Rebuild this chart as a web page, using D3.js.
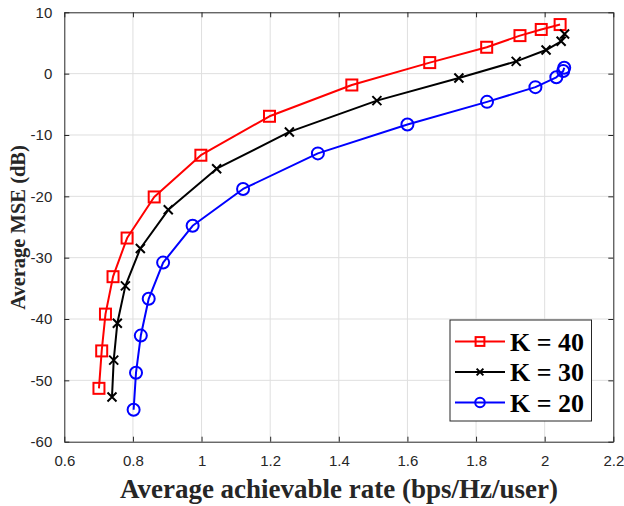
<!DOCTYPE html>
<html>
<head>
<meta charset="utf-8">
<script src="https://cdn.jsdelivr.net/npm/d3@7"></script>
<style>
  html, body { margin: 0; padding: 0; background: #fff; }
  svg { display: block; }
</style>
</head>
<body>
<svg id="chart" width="624" height="506"></svg>
<script>
// Achievable rate (bps/Hz/user) vs. average MSE (dB) for each user count K
const rateK40 = [0.701, 0.709, 0.720, 0.742, 0.783, 0.862, 0.998, 1.198, 1.438, 1.665, 1.831, 1.928, 1.990, 2.045];
const mseK40  = [-51.3, -45.2, -39.2, -33.1, -26.8, -20.1, -13.3, -6.95, -1.85, 1.8, 4.3, 6.2, 7.2, 8.0];

const rateK30 = [0.739, 0.744, 0.7545, 0.778, 0.8216, 0.903, 1.044, 1.256, 1.511, 1.750, 1.917, 2.004, 2.048, 2.058];
const mseK30  = [-52.7, -46.7, -40.7, -34.6, -28.5, -22.2, -15.5, -9.5, -4.4, -0.7, 2.0, 3.85, 5.27, 6.46];

const rateK20 = [0.802, 0.809, 0.823, 0.846, 0.888, 0.974, 1.121, 1.339, 1.600, 1.832, 1.973, 2.034, 2.054, 2.057];
const mseK20  = [-54.8, -48.75, -42.7, -36.7, -30.8, -24.8, -18.8, -13.0, -8.3, -4.6, -2.2, -0.6, 0.43, 0.97];

const seriesLabels = ["K = 40", "K = 30", "K = 20"];
const xTicks = [0.6, 0.8, 1.0, 1.2, 1.4, 1.6, 1.8, 2.0, 2.2];
const yTicks = [-60, -50, -40, -30, -20, -10, 0, 10];
const xLabel = "Average achievable rate (bps/Hz/user)";
const yLabel = "Average MSE (dB)";

const series = [
  { label: seriesLabels[0], xs: rateK40, ys: mseK40, color: "#ff0000", marker: "square" },
  { label: seriesLabels[1], xs: rateK30, ys: mseK30, color: "#000000", marker: "cross" },
  { label: seriesLabels[2], xs: rateK20, ys: mseK20, color: "#0000ff", marker: "circle" }
];

const svg = d3.select("#chart");
const plot = { left: 64.3, top: 12.3, right: 613.3, bottom: 441.7 };

const x = d3.scaleLinear().domain([0.6, 2.2]).range([plot.left, plot.right]);
const y = d3.scaleLinear().domain([-60, 10]).range([plot.bottom, plot.top]);

const axisColor = "#262626";
const gridColor = "#dfdfdf";
const tickFont = "'Liberation Sans', Arial, sans-serif";
const serifFont = "'Liberation Serif', 'Times New Roman', serif";

// grid
const grid = svg.append("g");
grid.selectAll("line.gx").data(xTicks.slice(1, -1)).enter().append("line")
  .attr("x1", d => x(d)).attr("x2", d => x(d))
  .attr("y1", plot.top).attr("y2", plot.bottom)
  .attr("stroke", gridColor).attr("stroke-width", 1);
grid.selectAll("line.gy").data(yTicks.slice(1, -1)).enter().append("line")
  .attr("y1", d => y(d)).attr("y2", d => y(d))
  .attr("x1", plot.left).attr("x2", plot.right)
  .attr("stroke", gridColor).attr("stroke-width", 1);

// axes (ticks pointing inward, mirrored on top and right)
function styleAxis(g) {
  g.select(".domain").attr("stroke", axisColor).attr("stroke-width", 1);
  g.selectAll(".tick line").attr("stroke", axisColor);
  g.selectAll(".tick text").attr("fill", axisColor)
    .style("font-family", tickFont).style("font-size", "15px");
}
// plain hyphen-minus for negative numbers
const fmt = d => String(+d.toFixed(1));

svg.append("g").attr("transform", `translate(0,${plot.bottom})`)
  .call(d3.axisBottom(x).tickValues(xTicks).tickFormat(fmt).tickSizeInner(-5).tickSizeOuter(0).tickPadding(14))
  .call(styleAxis);
svg.append("g").attr("transform", `translate(0,${plot.top})`)
  .call(d3.axisTop(x).tickValues(xTicks).tickFormat("").tickSizeInner(-5).tickSizeOuter(0))
  .call(styleAxis);
svg.append("g").attr("transform", `translate(${plot.left},0)`)
  .call(d3.axisLeft(y).tickValues(yTicks).tickFormat(fmt).tickSizeInner(-5).tickSizeOuter(0).tickPadding(12))
  .call(styleAxis);
svg.append("g").attr("transform", `translate(${plot.right},0)`)
  .call(d3.axisRight(y).tickValues(yTicks).tickFormat("").tickSizeInner(-5).tickSizeOuter(0))
  .call(styleAxis);

// series lines and markers
const line = d3.line().x(d => x(d[0])).y(d => y(d[1]));

function drawMarker(g, type, cx, cy, color, scale) {
  const s = scale || 1;
  if (type === "square") {
    const h = 5.5 * s;
    g.append("rect").attr("x", cx - h).attr("y", cy - h).attr("width", 2 * h).attr("height", 2 * h)
      .attr("fill", "none").attr("stroke", color).attr("stroke-width", 2);
  } else if (type === "circle") {
    g.append("circle").attr("cx", cx).attr("cy", cy).attr("r", 6 * s)
      .attr("fill", "none").attr("stroke", color).attr("stroke-width", 2);
  } else {
    const h = 4.5 * s;
    g.append("path")
      .attr("d", `M${cx - h},${cy - h}L${cx + h},${cy + h}M${cx - h},${cy + h}L${cx + h},${cy - h}`)
      .attr("stroke", color).attr("stroke-width", 2).attr("fill", "none");
  }
}

series.forEach(s => {
  const pts = s.xs.map((v, i) => [v, s.ys[i]]);
  const g = svg.append("g");
  g.append("path").datum(pts).attr("d", line)
    .attr("fill", "none").attr("stroke", s.color).attr("stroke-width", 2)
    .attr("stroke-linejoin", "round");
  pts.forEach(p => drawMarker(g, s.marker, x(p[0]), y(p[1]), s.color));
});

// axis titles
svg.append("text")
  .attr("x", 339).attr("y", 498)
  .attr("text-anchor", "middle")
  .style("font-family", serifFont).style("font-weight", "bold").style("font-size", "27px")
  .attr("fill", axisColor)
  .text(xLabel);

svg.append("text")
  .attr("transform", `translate(25,227.5) rotate(-90)`)
  .attr("text-anchor", "middle")
  .style("font-family", serifFont).style("font-weight", "bold").style("font-size", "20.5px")
  .attr("fill", axisColor)
  .text(yLabel);

// legend
const lg = svg.append("g");
lg.append("rect").attr("x", 450).attr("y", 320).attr("width", 141.5).attr("height", 101)
  .attr("fill", "#fff").attr("stroke", axisColor).attr("stroke-width", 1);
series.forEach((s, i) => {
  const cy = 341.5 + i * 30.5;
  lg.append("line").attr("x1", 455).attr("x2", 505).attr("y1", cy).attr("y2", cy)
    .attr("stroke", s.color).attr("stroke-width", 2);
  drawMarker(lg, s.marker, 480, cy, s.color, s.marker === "cross" ? 0.75 : 0.8);
  lg.append("text").attr("x", 510).attr("y", cy + 9)
    .style("font-family", serifFont).style("font-weight", "bold").style("font-size", "26px")
    .attr("fill", "#000")
    .text(s.label);
});
</script>
</body>
</html>
